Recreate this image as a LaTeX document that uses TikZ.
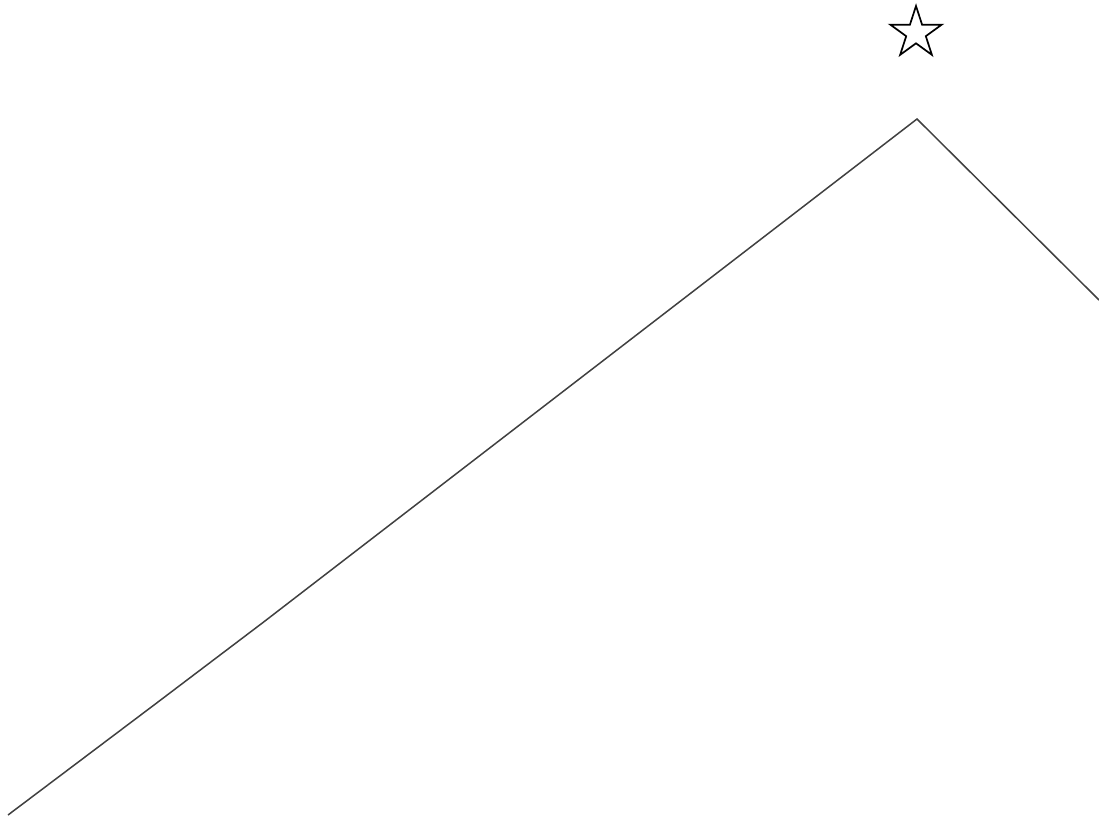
\documentclass[tikz,border=0pt]{standalone}
\usetikzlibrary{calc}
\begin{document}
\begin{tikzpicture}[x=1pt,y=-1pt,
  ridge/.style={draw=black!75,line width=1.5pt,line join=miter},
  starline/.style={draw=black,line width=1.7pt,line join=miter}]
\useasboundingbox (0,0) rectangle (1099,821);
\coordinate (a) at (8,815);
\coordinate (k1) at (156,703.5);
\coordinate (k2) at (263,622.5);
\coordinate (peak) at (917,119);
\coordinate (b) at (1099,300);
\draw[ridge] (a) -- (k1) -- (k2) -- (peak) -- (b);
\coordinate (sc) at (916,33);
\draw[starline] ($(sc)+(90:-27)$)
  \foreach \i in {1,...,9} {
    -- ($(sc)+({90+36*\i}:{-27*(mod(\i,2)==0 ? 1 : 0.382)})$)
  } -- cycle;
\end{tikzpicture}
\end{document}
